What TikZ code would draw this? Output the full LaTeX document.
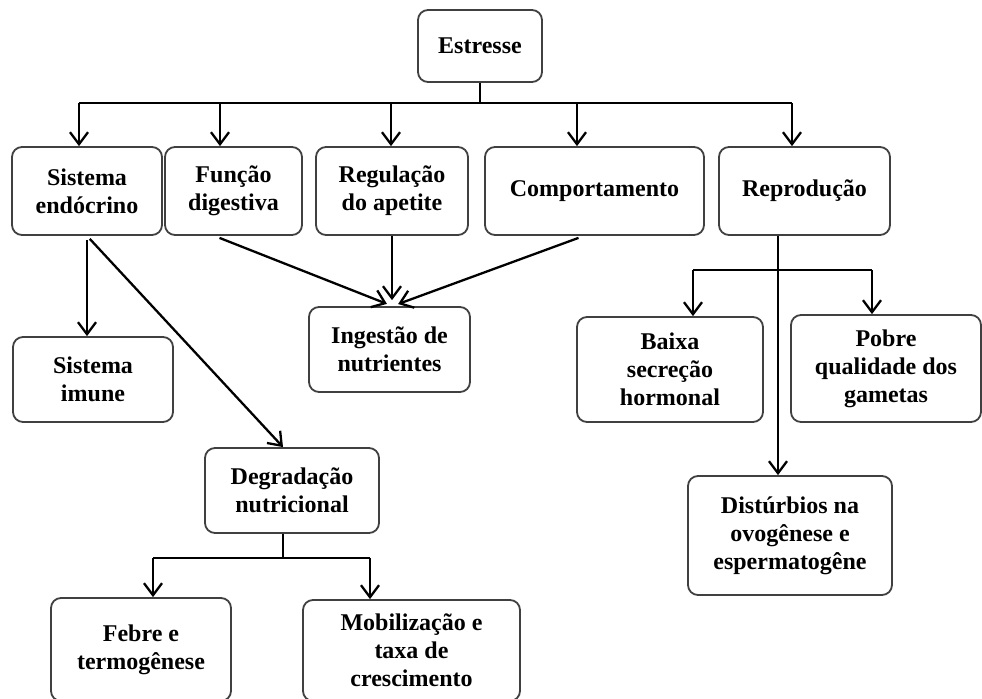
\documentclass[tikz,border=0pt]{standalone}
\usepackage{fontspec}
\setmainfont{Liberation Serif}
\usepackage{tikz}
\usetikzlibrary{arrows.meta}
\usetikzlibrary{positioning}

\begin{document}
\begin{tikzpicture}[x=0.5pt,y=-0.5pt,
  line/.style={line width=1.15pt,black},
  arr/.style={line,-{Straight Barb[length=6pt,width=9pt]}},
  box/.style={draw=black!75,line width=0.9pt,rounded corners=5pt,align=center,
    inner sep=2pt,font=\fontsize{12}{14}\selectfont\bfseries}]

  \useasboundingbox (0,0) rectangle (982,699);

  % top level
  \node[box,minimum width=62pt,minimum height=36pt] (estresse) at (480,46) {Estresse};

  \node[box,minimum width=75pt,minimum height=44pt] (sis) at (87,191) {Sistema\\endócrino};
  \node[box,minimum width=68.5pt,minimum height=44pt] (fun) at (233.5,191) {Função\\digestiva};
  \node[box,minimum width=76pt,minimum height=44pt] (reg) at (392,191) {Regulação\\do apetite};
  \node[box,minimum width=109.5pt,minimum height=44pt] (com) at (594.5,191) {Comportamento};
  \node[box,minimum width=85.5pt,minimum height=44pt] (rep) at (804.5,191) {Reprodução};

  % second level
  \node[box,minimum width=80pt,minimum height=42.5pt] (imu) at (93,379.5) {Sistema\\imune};
  \node[box,minimum width=80.5pt,minimum height=42.5pt] (ing) at (389.5,349.5) {Ingestão de\\nutrientes};
  \node[box,minimum width=87pt,minimum height=42.5pt] (deg) at (292,490.5) {Degradação\\nutricional};
  \node[box,minimum width=90pt,minimum height=51.5pt] (feb) at (141,649.5) {Febre e\\termogênese};
  \node[box,minimum width=108.5pt,minimum height=50.5pt] (mob) at (411.5,650.5) {Mobilização e\\taxa de\\crescimento};

  \node[box,minimum width=93pt,minimum height=52.5pt] (bai) at (670,369.5) {Baixa\\secreção\\hormonal};
  \node[box,minimum width=95pt,minimum height=53.5pt] (pob) at (886,368.5) {Pobre\\qualidade dos\\gametas};
  \node[box,minimum width=102pt,minimum height=59.5pt] (dis) at (790,535.5) {Distúrbios na\\ovogênese e\\espermatogêne};

  % branch from Estresse
  \coordinate (d1) at (79,103);
  \coordinate (d2) at (220,103);
  \coordinate (d3) at (391,103);
  \coordinate (d4) at (577,103);
  \coordinate (d5) at (792,103);
  \draw[line] (estresse.south) -- (estresse.south |- d1);
  \draw[line] (d1) -- (d5);
  \foreach \d/\n in {d1/sis,d2/fun,d3/reg,d4/com,d5/rep}
    \draw[arr] (\d) -- (\d |- \n.north);

  % Sistema endocrino
  \draw[arr,shorten <=2pt] (sis.south) -- (sis.south |- imu.north);
  \draw[arr,shorten <=2pt] (sis.south) -- ([xshift=-4.5pt]deg.north);

  % towards Ingestao
  \draw[arr,shorten >=3pt] ([xshift=-7pt,yshift=-1pt]fun.south) -- ([xshift=1.5pt]ing.north);
  \draw[arr,shorten >=3pt] (reg.south) -- (reg.south |- ing.north);
  \draw[arr,shorten >=3pt] ([xshift=-8pt,yshift=-1pt]com.south) -- ([xshift=1.5pt]ing.north);

  % Degradacao
  \coordinate (g0) at (283,558);
  \coordinate (g1) at (153,558);
  \coordinate (g2) at (370,558);
  \draw[line] (deg.south -| g0) -- (g0);
  \draw[line] (g1) -- (g2);
  \draw[arr] (g1) -- (g1 |- feb.north);
  \draw[arr] (g2) -- (g2 |- mob.north);

  % Reproducao
  \coordinate (r0) at (778,270);
  \coordinate (r1) at (693,270);
  \coordinate (r2) at (872,270);
  \draw[arr] (rep.south -| r0) -- (r0 |- dis.north);
  \draw[line] (r1) -- (r2);
  \draw[arr] (r1) -- (r1 |- bai.north);
  \draw[arr] (r2) -- (r2 |- pob.north);
\end{tikzpicture}
\end{document}
